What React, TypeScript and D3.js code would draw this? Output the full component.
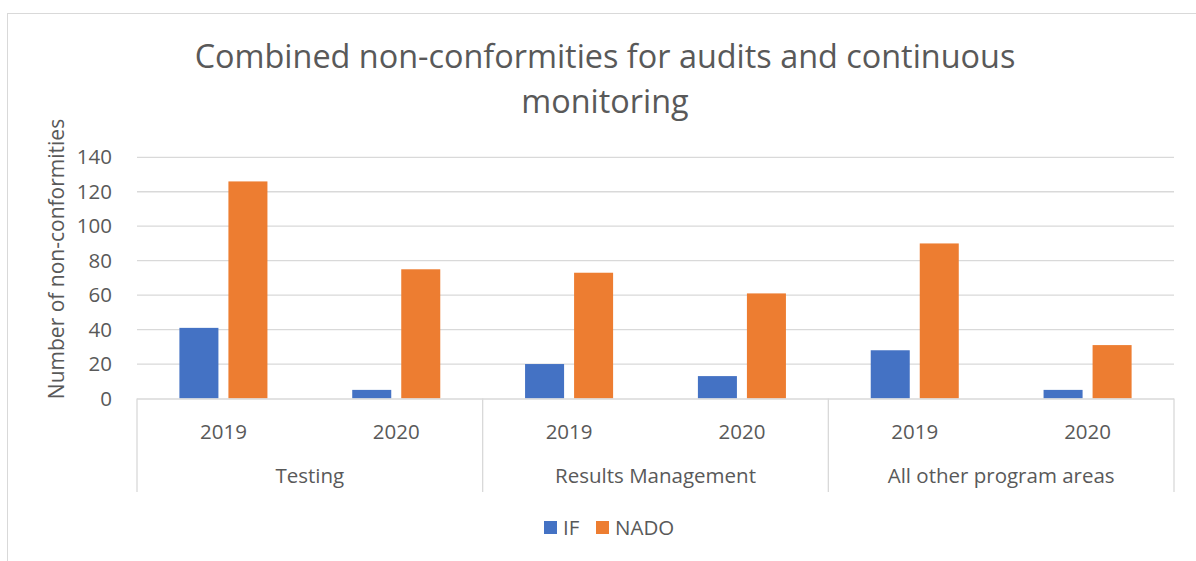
import React from "react";
import * as d3 from "d3";

const categories = ["Testing", "Results Management", "All other program areas"];
const years = ["2019", "2020"];
const seriesNames = ["IF", "NADO"];
const ifValues = [41, 5, 20, 13, 28, 5];
const nadoValues = [126, 75, 73, 61, 90, 31];
const yTicks = [0, 20, 40, 60, 80, 100, 120, 140];
const colors = ["#4472C4", "#ED7D31"];

const W = 1196;
const H = 561;
const FONT = "'Open Sans', 'DejaVu Sans', sans-serif";
const TXT = "#595959";
const FS = 20.5;

export default function App() {
  const left = 137;
  const right = 1174;
  const top = 157.3;
  const bottom = 398.5;
  const y = d3.scaleLinear().domain([0, 140]).range([bottom, top]);
  const x0 = d3.scaleBand<string>().domain(categories).range([left, right]).padding(0);
  const xYear = d3.scaleBand<string>().domain(years).range([0, x0.bandwidth()]).padding(0);
  const xSer = d3
    .scaleBand<string>()
    .domain(seriesNames)
    .range([0, xYear.bandwidth()])
    .paddingInner(0.204)
    .paddingOuter(0.865);

  const seriesValues = [ifValues, nadoValues];
  const bars: any[] = [];
  categories.forEach((c, ci) => {
    years.forEach((yr, yi) => {
      seriesNames.forEach((s, si) => {
        const v = seriesValues[si][ci * years.length + yi];
        const bx = (x0(c) as number) + (xYear(yr) as number) + (xSer(s) as number);
        bars.push(
          <rect
            key={`${c}-${yr}-${s}`}
            x={bx}
            y={y(v)}
            width={xSer.bandwidth()}
            height={bottom - y(v)}
            fill={colors[si]}
          />
        );
      });
    });
  });

  const sepBottom = 492;

  return (
    <svg width={W} height={H} style={{ position: "absolute", left: 0, top: 0 }} fontFamily={FONT}>
      <rect x={0} y={0} width={W} height={H} fill="#fff" />
      <rect x={7.5} y={13.5} width={W + 20} height={H + 20} fill="#fff" stroke="#d9d9d9" strokeWidth={1} />
      <text x={605} y={68} textAnchor="middle" fontSize={32.4} fill={TXT}>
        Combined non-conformities for audits and continuous
      </text>
      <text x={605} y={113} textAnchor="middle" fontSize={32.4} fill={TXT}>
        monitoring
      </text>
      {yTicks.map((t) => (
        <g key={t}>
          {t > 0 && (
            <line x1={left} x2={right} y1={y(t)} y2={y(t)} stroke="#d9d9d9" strokeWidth={1.3} />
          )}
          <text x={112} y={y(t)} dy="0.35em" textAnchor="end" fontSize={FS} fill={TXT}>
            {t}
          </text>
        </g>
      ))}
      <text
        transform={`translate(${64},${259}) rotate(-90)`}
        textAnchor="middle"
        fontSize={21}
        fill={TXT}
      >
        Number of non-conformities
      </text>
      {bars}
      <line x1={left} x2={right} y1={bottom + 0.5} y2={bottom + 0.5} stroke="#d9d9d9" strokeWidth={1.3} />
      {[...categories.map((c) => x0(c) as number), right].map((sx, i) => (
        <line key={i} x1={sx} x2={sx} y1={bottom} y2={sepBottom} stroke="#d9d9d9" strokeWidth={1.3} />
      ))}
      {categories.map((c) =>
        years.map((yr) => (
          <text
            key={c + yr}
            x={(x0(c) as number) + (xYear(yr) as number) + xYear.bandwidth() / 2}
            y={439}
            textAnchor="middle"
            fontSize={FS}
            fill={TXT}
          >
            {yr}
          </text>
        ))
      )}
      {categories.map((c) => (
        <text
          key={c}
          x={(x0(c) as number) + x0.bandwidth() / 2}
          y={483}
          textAnchor="middle"
          fontSize={FS}
          fill={TXT}
        >
          {c}
        </text>
      ))}
      {seriesNames.map((s, i) => {
        const lx = [544, 596][i];
        return (
          <g key={s}>
            <rect x={lx} y={521} width={13} height={13} fill={colors[i]} />
            <text x={lx + 19} y={535} fontSize={FS} fill={TXT}>
              {s}
            </text>
          </g>
        );
      })}
    </svg>
  );
}
